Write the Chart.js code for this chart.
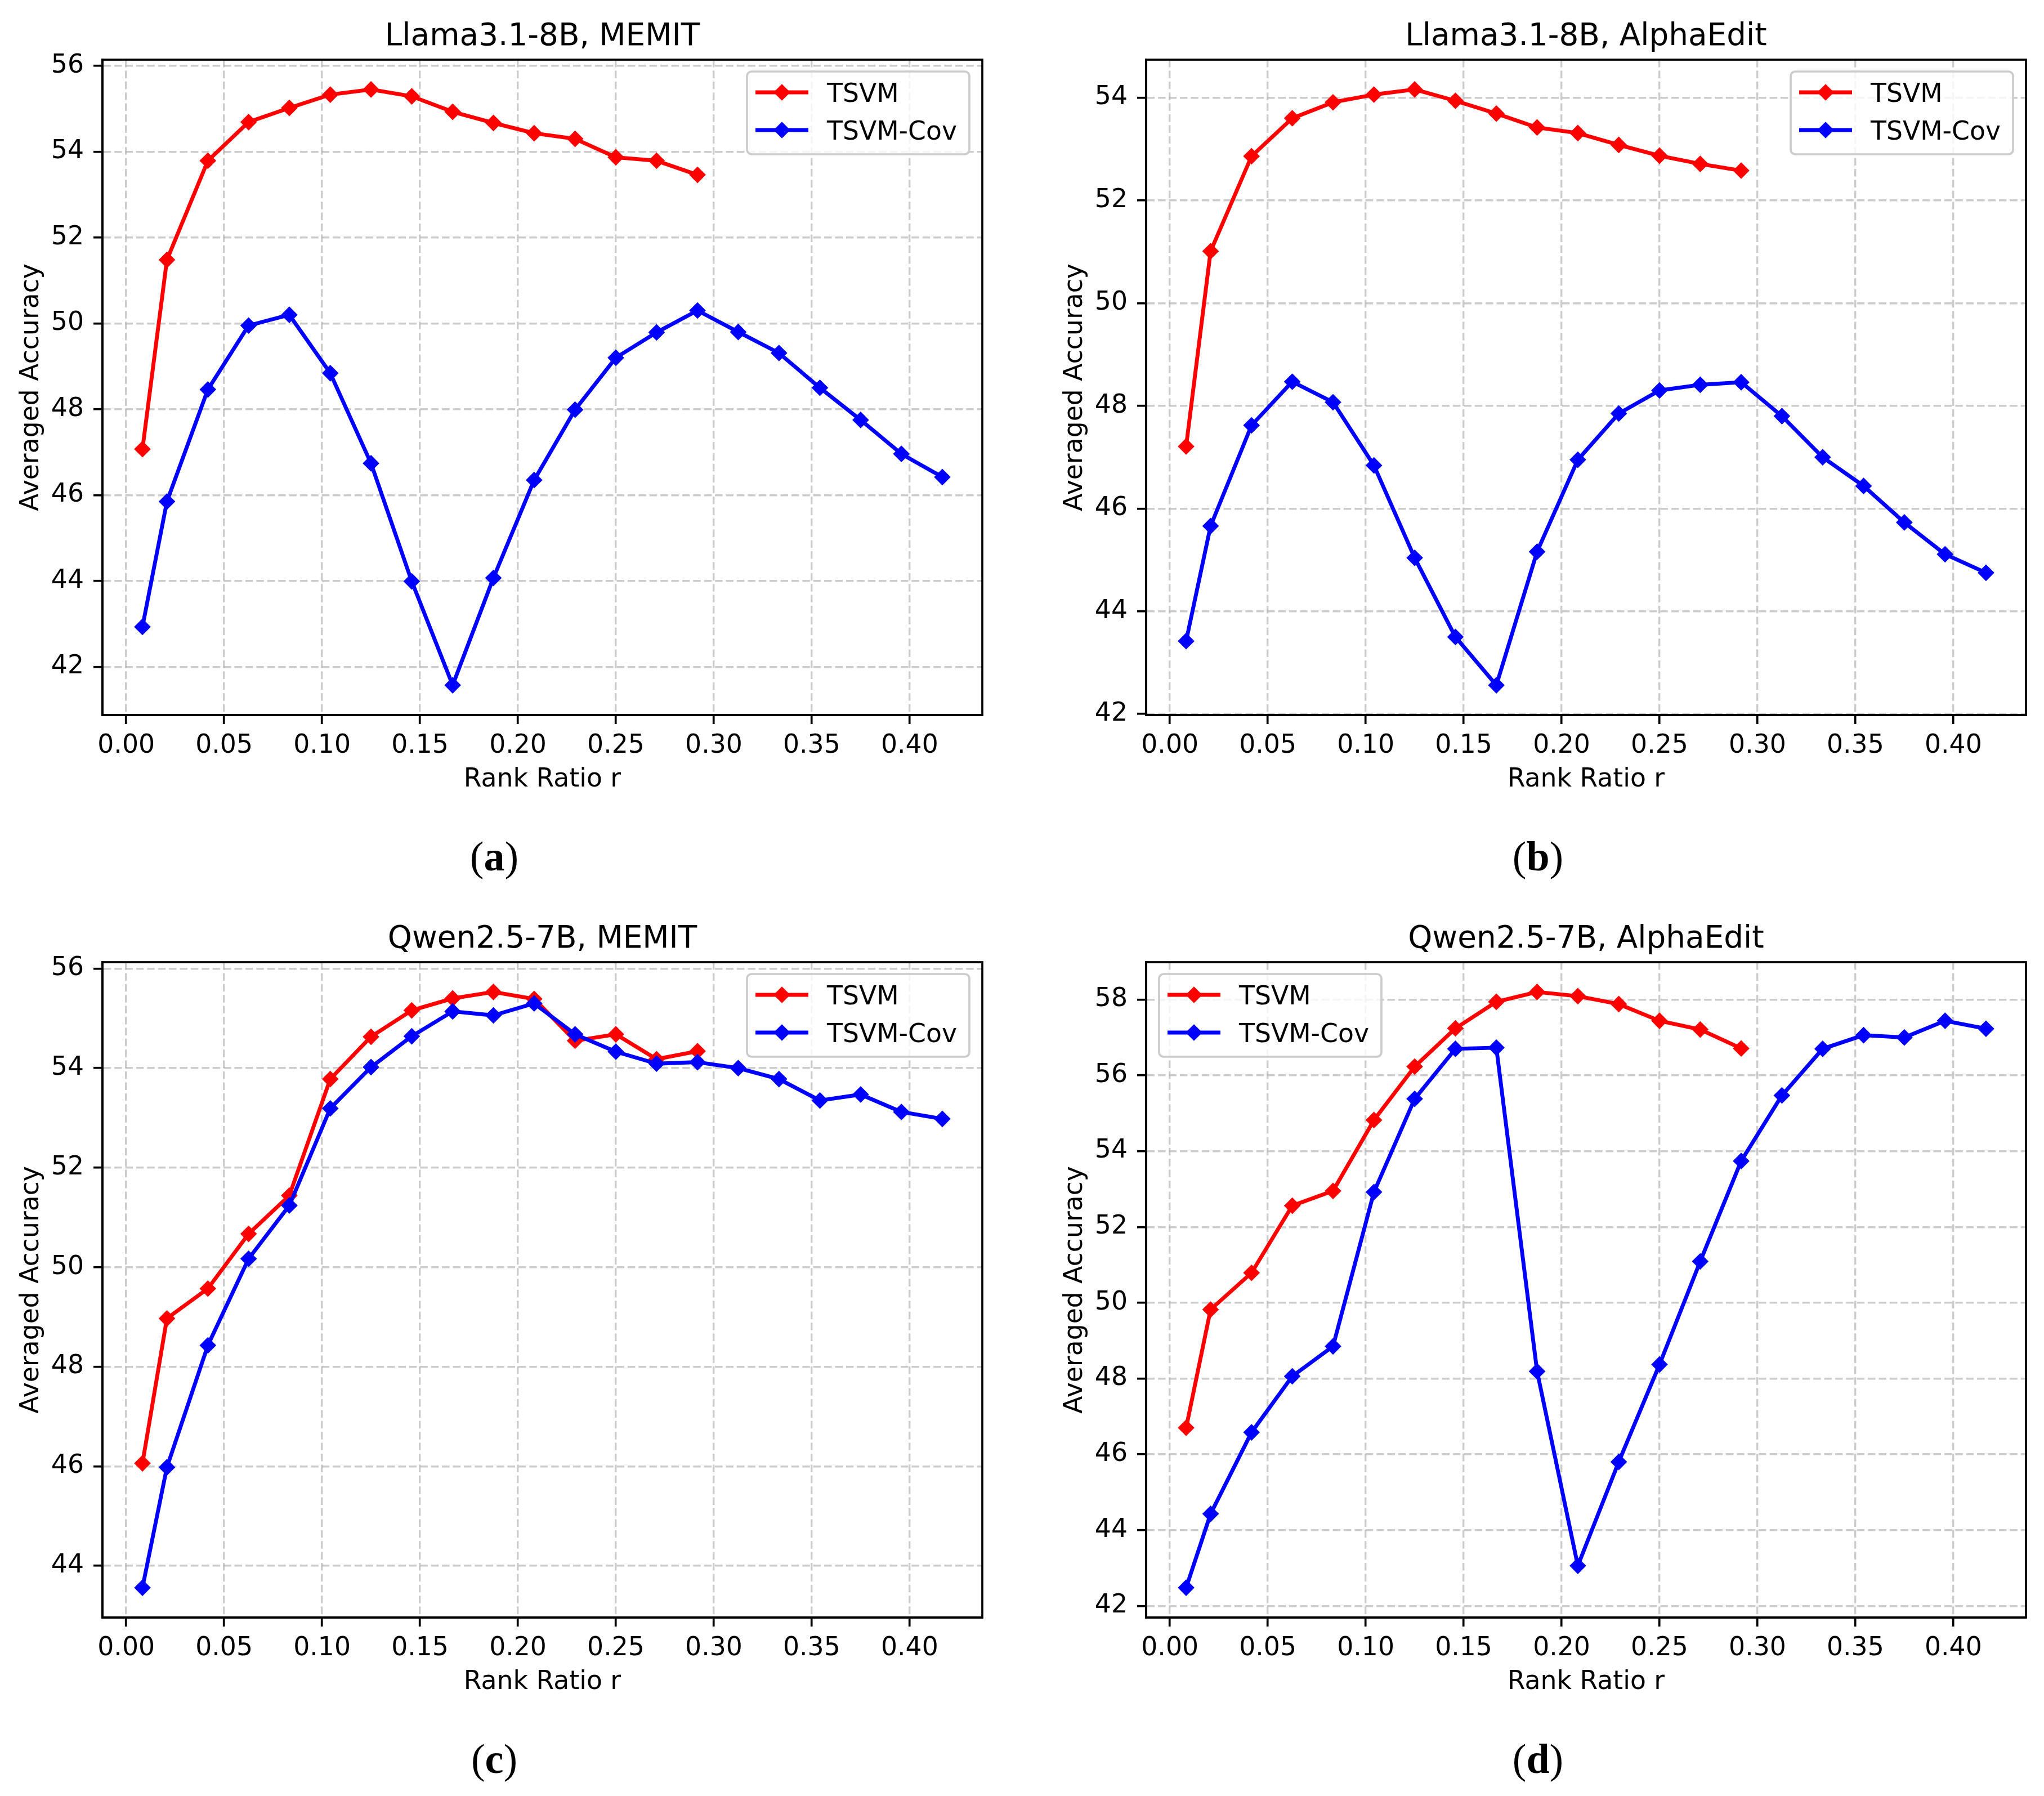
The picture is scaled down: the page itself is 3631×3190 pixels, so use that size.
<!DOCTYPE html>
<html>
<head>
<meta charset="utf-8">
<script src="https://cdn.jsdelivr.net/npm/chart.js@4.4.1/dist/chart.umd.min.js"></script>
<style>
  html, body { margin: 0; padding: 0; background: #fff; }
  #page { position: relative; width: 3631px; height: 3190px; background: #fff; overflow: hidden; }
  canvas { position: absolute; }
</style>
</head>
<body>
<div id="page">
  <canvas id="panelA" width="1777" height="1587" style="left:0px;top:0px"></canvas>
  <canvas id="panelB" width="1777" height="1587" style="left:1854px;top:0px"></canvas>
  <canvas id="panelC" width="1777" height="1587" style="left:0px;top:1603px"></canvas>
  <canvas id="panelD" width="1777" height="1587" style="left:1854px;top:1603px"></canvas>
</div>
<script>
// rank ratio r on the x axis (TSVM stops at 0.29)
const rankRatio = [0.0083, 0.0208, 0.0417, 0.0625, 0.0833, 0.1042, 0.1250, 0.1458, 0.1667, 0.1875,
                   0.2083, 0.2292, 0.2500, 0.2708, 0.2917, 0.3125, 0.3333, 0.3542, 0.3750, 0.3958, 0.4167];
const xTicks = [0.00, 0.05, 0.10, 0.15, 0.20, 0.25, 0.30, 0.35, 0.40];

// (a) Llama3.1-8B, MEMIT
const llamaMemitTsvm = [47.07, 51.48, 53.79, 54.69, 55.02, 55.33, 55.45, 55.29, 54.93, 54.67, 54.43, 54.30, 53.87, 53.79, 53.46];
const llamaMemitCov  = [42.93, 45.85, 48.46, 49.95, 50.20, 48.84, 46.74, 43.99, 41.57, 44.07, 46.35, 47.99, 49.20, 49.79, 50.30, 49.80, 49.31, 48.50, 47.75, 46.96, 46.42];
const llamaMemitTicks = [42, 44, 46, 48, 50, 52, 54, 56];

// (b) Llama3.1-8B, AlphaEdit
const llamaAlphaTsvm = [47.21, 51.01, 52.86, 53.60, 53.91, 54.06, 54.16, 53.94, 53.69, 53.42, 53.31, 53.08, 52.87, 52.71, 52.58];
const llamaAlphaCov  = [43.42, 45.66, 47.62, 48.47, 48.07, 46.84, 45.04, 43.50, 42.56, 45.16, 46.95, 47.85, 48.30, 48.41, 48.46, 47.80, 47.00, 46.44, 45.73, 45.11, 44.75];
const llamaAlphaTicks = [42, 44, 46, 48, 50, 52, 54];

// (c) Qwen2.5-7B, MEMIT
const qwenMemitTsvm = [46.06, 48.97, 49.57, 50.67, 51.44, 53.78, 54.63, 55.16, 55.40, 55.53, 55.39, 54.55, 54.68, 54.18, 54.34];
const qwenMemitCov  = [43.56, 45.98, 48.43, 50.17, 51.24, 53.19, 54.02, 54.64, 55.14, 55.06, 55.30, 54.68, 54.33, 54.09, 54.12, 54.00, 53.78, 53.35, 53.47, 53.12, 52.98];
const qwenMemitTicks = [44, 46, 48, 50, 52, 54, 56];

// (d) Qwen2.5-7B, AlphaEdit
const qwenAlphaTsvm = [46.70, 49.82, 50.79, 52.56, 52.95, 54.82, 56.23, 57.24, 57.94, 58.20, 58.09, 57.88, 57.44, 57.21, 56.71];
const qwenAlphaCov  = [42.48, 44.43, 46.58, 48.06, 48.85, 52.92, 55.38, 56.70, 56.73, 48.19, 43.06, 45.80, 48.37, 51.09, 53.74, 55.47, 56.70, 57.06, 57.00, 57.44, 57.23];
const qwenAlphaTicks = [42, 44, 46, 48, 50, 52, 54, 56, 58];

const seriesNames = ['TSVM', 'TSVM-Cov'];
const seriesColors = ['#ff0000', '#0000ff'];

// layout inside each panel canvas (pixels)
const CANVAS_W = 1777, CANVAS_H = 1587;
const PLOT_LEFT = 182, PLOT_TOP = 106, PLOT_RIGHT = 1745, PLOT_BOTTOM = 1270;
const FONT = '"DejaVu Sans", sans-serif';
const TICK_PX = 45.7;

Chart.defaults.font.family = FONT;
Chart.defaults.color = '#000';

function paddedRange(values) {
    const lo = Math.min(...values), hi = Math.max(...values);
    const pad = (hi - lo) * 0.05;
    return [lo - pad, hi + pad];
}

// frame, titles, legend and sub-caption, drawn on top of the chart
const panelDecor = {
    id: 'panelDecor',
    afterDraw(chart, args, opts) {
        const { ctx, chartArea: a } = chart;
        const cx = (a.left + a.right) / 2;
        ctx.save();

        ctx.strokeStyle = '#000';
        ctx.lineWidth = 3.7;
        ctx.strokeRect(a.left, a.top, a.right - a.left, a.bottom - a.top);

        ctx.fillStyle = '#000';
        ctx.textAlign = 'center';
        ctx.textBaseline = 'alphabetic';
        ctx.font = '54.8px ' + FONT;
        ctx.fillText(opts.title, cx, a.top - 26);

        ctx.font = TICK_PX + 'px ' + FONT;
        ctx.fillText('Rank Ratio r', cx, a.bottom + 127);

        ctx.save();
        ctx.translate(68, (a.top + a.bottom) / 2);
        ctx.rotate(-Math.PI / 2);
        ctx.fillText('Averaged Accuracy', 0, 0);
        ctx.restore();

        // legend
        const sets = chart.data.datasets;
        ctx.font = TICK_PX + 'px ' + FONT;
        const textW = Math.max(...sets.map(d => ctx.measureText(d.label).width));
        const w = 142 + textW + 22, h = 147;
        const lx = opts.legendLeft ? a.left + 23 : a.right - 23 - w;
        const ly = a.top + 21;
        ctx.beginPath();
        ctx.roundRect(lx, ly, w, h, 8);
        ctx.fillStyle = 'rgba(255,255,255,0.8)';
        ctx.fill();
        ctx.strokeStyle = '#cccccc';
        ctx.lineWidth = 3.7;
        ctx.stroke();
        sets.forEach((d, i) => {
            const cy = ly + 37 + i * 67;
            ctx.strokeStyle = d.borderColor;
            ctx.fillStyle = d.borderColor;
            ctx.lineWidth = 6.9;
            ctx.beginPath();
            ctx.moveTo(lx + 15, cy);
            ctx.lineTo(lx + 109, cy);
            ctx.stroke();
            const mx = lx + 62, r = 12;
            ctx.lineWidth = 4;
            ctx.beginPath();
            ctx.moveTo(mx - r, cy); ctx.lineTo(mx, cy - r);
            ctx.lineTo(mx + r, cy); ctx.lineTo(mx, cy + r);
            ctx.closePath();
            ctx.fill();
            ctx.stroke();
            ctx.fillStyle = '#000';
            ctx.textAlign = 'left';
            ctx.fillText(d.label, lx + 142, cy + 17);
        });

        // sub-caption "(a)" with bold letter
        ctx.font = '74px "Liberation Serif", serif';
        const pw = ctx.measureText('(').width, cw = ctx.measureText(')').width;
        ctx.font = 'bold 74px "Liberation Serif", serif';
        const lw = ctx.measureText(opts.tag).width;
        let x = 878 - (pw + lw + cw) / 2;
        const by = 1546;
        ctx.textAlign = 'left';
        ctx.fillStyle = '#000';
        ctx.font = '74px "Liberation Serif", serif';
        ctx.fillText('(', x, by); x += pw;
        ctx.font = 'bold 74px "Liberation Serif", serif';
        ctx.fillText(opts.tag, x, by); x += lw;
        ctx.font = '74px "Liberation Serif", serif';
        ctx.fillText(')', x, by);

        ctx.restore();
    }
};

function axisStyle() {
    return {
        grid: {
            color: 'rgba(176,176,176,0.65)',
            lineWidth: 3.4,
            tickLength: 16,
            tickColor: '#000',
            tickWidth: 3.7,
            tickBorderDash: []
        },
        border: { display: true, color: '#000', width: 3.7, dash: [13.5, 5.9] },
    };
}

function makePanel(id, title, tag, tsvm, cov, yTicks, legendLeft) {
    const xr = paddedRange(rankRatio);
    const yr = paddedRange(tsvm.concat(cov));
    const series = [tsvm, cov];
    const datasets = series.map((vals, i) => ({
        label: seriesNames[i],
        data: vals.map((v, k) => ({ x: rankRatio[k], y: v })),
        borderColor: seriesColors[i],
        backgroundColor: seriesColors[i],
        borderWidth: 6.9,
        borderJoinStyle: 'round',
        pointStyle: 'rectRot',
        pointRadius: 12,
        pointBorderWidth: 4,
        pointBackgroundColor: seriesColors[i],
        pointBorderColor: seriesColors[i],
        tension: 0,
        fill: false,
        clip: false,
        order: 1 - i
    }));

    const xs = axisStyle();
    const ys = axisStyle();

    new Chart(document.getElementById(id), {
        type: 'line',
        data: { datasets },
        plugins: [panelDecor],
        options: {
            responsive: false,
            animation: false,
            events: [],
            devicePixelRatio: 1,
            layout: { padding: { left: 0, top: PLOT_TOP, right: CANVAS_W - PLOT_RIGHT, bottom: 0 } },
            plugins: {
                legend: { display: false },
                tooltip: { enabled: false },
                panelDecor: { title, tag, legendLeft }
            },
            scales: {
                x: {
                    type: 'linear',
                    min: xr[0],
                    max: xr[1],
                    grid: xs.grid,
                    border: xs.border,
                    afterBuildTicks: axis => { axis.ticks = xTicks.map(v => ({ value: v })); },
                    afterFit: axis => { axis.height = CANVAS_H - PLOT_BOTTOM; },
                    ticks: {
                        autoSkip: false,
                        maxRotation: 0,
                        padding: 12,
                        color: '#000',
                        font: { size: TICK_PX, family: FONT },
                        callback: v => Number(v).toFixed(2)
                    }
                },
                y: {
                    type: 'linear',
                    min: yr[0],
                    max: yr[1],
                    grid: ys.grid,
                    border: ys.border,
                    afterBuildTicks: axis => { axis.ticks = yTicks.map(v => ({ value: v })); },
                    afterFit: axis => { axis.width = PLOT_LEFT; },
                    ticks: {
                        padding: 17,
                        color: '#000',
                        font: { size: TICK_PX, family: FONT },
                        callback: v => String(v)
                    }
                }
            }
        }
    });
}

makePanel('panelA', 'Llama3.1-8B, MEMIT', 'a', llamaMemitTsvm, llamaMemitCov, llamaMemitTicks, false);
makePanel('panelB', 'Llama3.1-8B, AlphaEdit', 'b', llamaAlphaTsvm, llamaAlphaCov, llamaAlphaTicks, false);
makePanel('panelC', 'Qwen2.5-7B, MEMIT', 'c', qwenMemitTsvm, qwenMemitCov, qwenMemitTicks, false);
makePanel('panelD', 'Qwen2.5-7B, AlphaEdit', 'd', qwenAlphaTsvm, qwenAlphaCov, qwenAlphaTicks, true);
</script>
</body>
</html>
